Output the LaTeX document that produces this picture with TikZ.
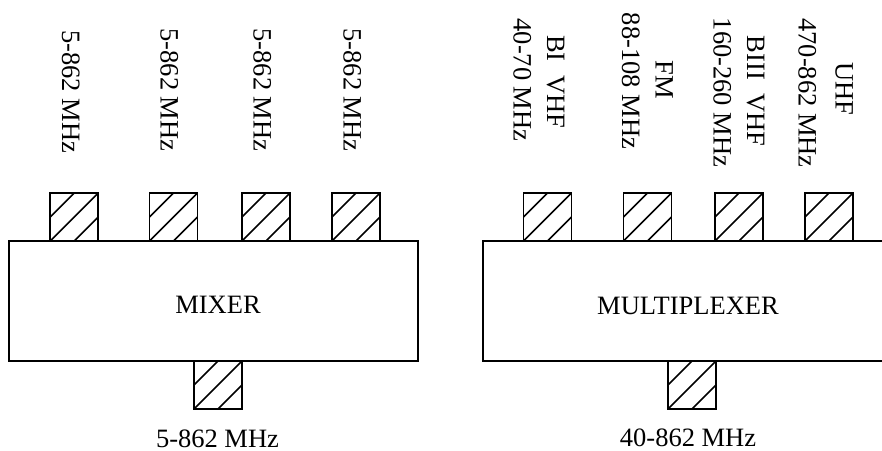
\documentclass[tikz,border=0pt]{standalone}
\usepackage{fontspec}
\setmainfont{Liberation Serif}
\begin{document}
\begin{tikzpicture}[x=1pt,y=-1pt,
  box/.style={draw,line width=1.8pt,inner sep=0pt},
  port/.style={draw,fill=white,line width=1.8pt,minimum width=48pt,minimum height=48pt,inner sep=0pt,
    path picture={
      \draw[line width=1.5pt] (path picture bounding box.west) -- (path picture bounding box.north);
      \draw[line width=1.5pt] (path picture bounding box.south west) -- (path picture bounding box.north east);
      \draw[line width=1.5pt] (path picture bounding box.south) -- (path picture bounding box.east);
    }},
  txt/.style={inner sep=0pt,font=\fontsize{26.5}{33}\selectfont,anchor=base},
  vtxt/.style={txt,rotate=-90}]
\clip (0,0) rectangle (882,450);
% boxes
\node[box,minimum width=409pt,minimum height=120pt] (mixer) at (213.8,300.7) {};
\node[box,minimum width=409pt,minimum height=120pt] (mux) at (687.8,300.7) {};
\node[txt] (mixtxt) at (218,313.5) {MIXER};
\node[txt] (muxtxt) at (688,314.5) {MULTIPLEXER};
% mixer ports
\node[port] (m1) at (74.2,217) {};
\node[port] (m2) at (173.5,217) {};
\node[port] (m3) at (266,217) {};
\node[port] (m4) at (356,217) {};
\node[port] (mo) at (218,385) {};
% multiplexer ports
\node[port] (x1) at (547.5,217) {};
\node[port] (x2) at (647.5,217) {};
\node[port] (x3) at (739,217) {};
\node[port] (x4) at (829,217) {};
\node[port] (xo) at (692,385) {};
% mixer labels
\node[vtxt] (lm1) at (62,91.5) {5-862 MHz};
\node[vtxt] (lm2) at (160.5,90) {5-862 MHz};
\node[vtxt] (lm3) at (253.5,90) {5-862 MHz};
\node[vtxt] (lm4) at (343.5,90) {5-862 MHz};
\node[txt] (lmo) at (217.5,447) {5-862 MHz};
% multiplexer labels
\node[vtxt] (lx1a) at (547,81.7) {BI\ \ VHF};
\node[vtxt] (lx1b) at (513.5,80) {40-70 MHz};
\node[vtxt] (lx2a) at (655.5,80) {FM};
\node[vtxt] (lx2b) at (622,81) {88-108 MHz};
\node[vtxt] (lx3a) at (747,91) {BIII\ \ VHF};
\node[vtxt] (lx3b) at (713.5,92.5) {160-260 MHz};
\node[vtxt] (lx4a) at (835.5,89) {UHF};
\node[vtxt] (lx4b) at (798.5,93) {470-862 MHz};
\node[txt] (lxo) at (688,446.5) {40-862 MHz};
\end{tikzpicture}
\end{document}
